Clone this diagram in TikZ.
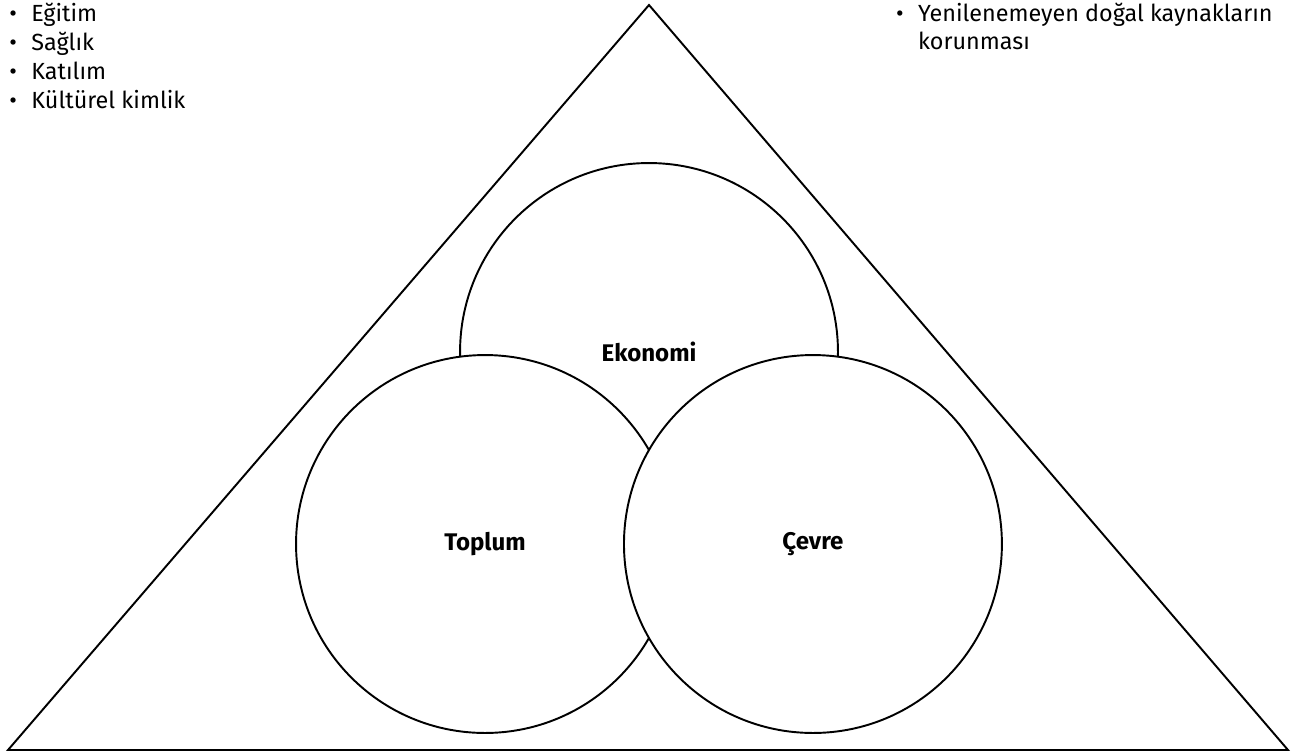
\documentclass[tikz,border=0pt]{standalone}
\usepackage{fontspec}
\setmainfont{Fira Sans}
\usetikzlibrary{positioning}
\tikzstyle{pillar} = [circle, draw=black, line width=1.1pt, fill=white, minimum size=7.56cm, inner sep=0pt, font=\bfseries\fontsize{13.7}{16}\selectfont]
\tikzstyle{item} = [anchor=base west, inner sep=0pt, font=\fontsize{13.3}{16}\selectfont]
\newcommand{\madde}{\makebox[0.44cm][l]{•}}
\begin{document}
\begin{tikzpicture}[x=0.02cm, y=-0.02cm, node distance=1cm]
        \useasboundingbox (0,0) rectangle (1293,754);
        % outer triangle
        \coordinate (apex) at (649,5);
        \coordinate (baseleft) at (8,750);
        \coordinate (baseright) at (1288,750);
        \draw [line width=1.1pt] (apex) -- (baseright) -- (baseleft) -- cycle;

        \node (ekonomi) [pillar] at (649,352) {Ekonomi};
        \node (toplum) [pillar] at (485,544) {Toplum};
        \node (cevre) [pillar, right of=toplum, xshift=5.56cm] {Çevre};

        \foreach \t [count=\i] in {Eğitim, Sağlık, Katılım, Kültürel kimlik}
            \node (sosyal\i) [item] at (9,21+29*\i-29) {\madde\t};
        \node (dogal1) [item, anchor=base east] at (1273,21) {\madde Yenilenemeyen doğal kaynakların};
        \node (dogal2) [item, below=0.58cm of dogal1.base west, anchor=base west, xshift=0.44cm] {korunması};
\end{tikzpicture}
\end{document}
